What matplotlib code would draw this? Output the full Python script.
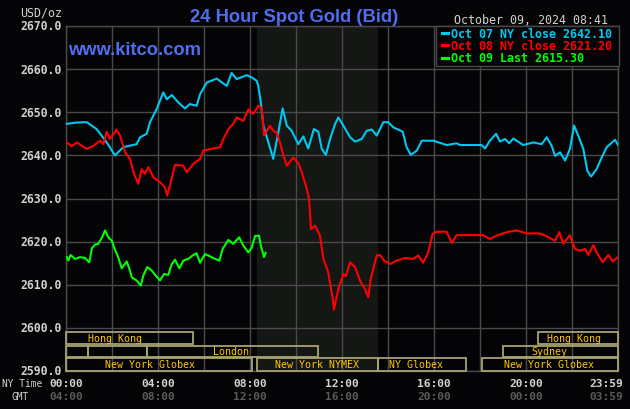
import matplotlib
matplotlib.use("Agg")
import matplotlib.pyplot as plt
from matplotlib.patches import Rectangle
import matplotlib.transforms as mtransforms

# ---------------- data ----------------
oct07_h = [0.03, 0.43, 0.9, 1.33, 1.77, 2.13, 2.49, 3.07, 3.22, 3.51, 3.65, 3.94, 4.23, 4.38, 4.6,
           4.88, 5.17, 5.39, 5.68, 5.83, 6.12, 6.55, 6.99, 7.2, 7.42, 7.86, 8.07, 8.29, 8.36, 8.47,
           8.58, 8.8, 9.01, 9.23, 9.42, 9.6, 9.81, 10.1, 10.32, 10.53, 10.78, 10.97, 11.12, 11.3,
           11.48, 11.7, 11.84, 12.06, 12.35, 12.57, 12.86, 13.07, 13.29, 13.51, 13.8, 14.01, 14.23,
           14.64, 14.81, 14.99, 15.25, 15.47, 15.97, 16.55, 16.99, 17.13, 18.07, 18.22, 18.43, 18.7,
           18.87, 19.09, 19.27, 19.45, 19.88, 20.32, 20.68, 20.9, 21.12, 21.26, 21.48, 21.7, 21.91,
           22.09, 22.27, 22.49, 22.67, 22.83, 23.07, 23.29, 23.51, 23.87, 24.0]
oct07_v = [2647.3, 2647.6, 2647.7, 2646.1, 2643.0, 2640.0, 2641.9, 2642.6, 2644.2, 2645.0, 2647.7,
           2650.7, 2654.6, 2653.0, 2654.0, 2652.3, 2650.9, 2651.9, 2651.5, 2654.2, 2656.9, 2657.8,
           2656.1, 2659.1, 2657.7, 2658.6, 2658.1, 2657.3, 2656.1, 2652.3, 2646.9, 2643.0, 2639.2,
           2645.3, 2650.9, 2646.9, 2645.7, 2642.6, 2644.4, 2641.6, 2646.1, 2645.5, 2641.5, 2640.1,
           2643.8, 2647.3, 2648.8, 2646.9, 2644.2, 2643.2, 2643.8, 2645.7, 2646.0, 2644.6, 2647.7,
           2647.7, 2646.5, 2645.5, 2641.9, 2640.1, 2641.1, 2643.4, 2643.4, 2642.4, 2642.8, 2642.4,
           2642.4, 2641.6, 2643.4, 2645.0, 2643.2, 2643.8, 2642.8, 2643.9, 2642.4, 2643.0, 2642.6,
           2644.2, 2642.2, 2639.9, 2640.7, 2638.8, 2641.5, 2646.9, 2644.6, 2641.5, 2636.4, 2635.1,
           2636.8, 2639.5, 2641.9, 2643.6, 2642.4]

oct08_h = [0.03, 0.25, 0.47, 0.9, 1.19, 1.48, 1.62, 1.77, 1.91, 2.2, 2.35, 2.57, 2.78, 2.96, 3.14,
           3.29, 3.43, 3.58, 3.8, 4.09, 4.3, 4.4, 4.52, 4.74, 5.1, 5.25, 5.53, 5.83, 5.97, 6.4, 6.7,
           6.84, 7.06, 7.27, 7.42, 7.71, 7.93, 8.14, 8.36, 8.51, 8.61, 8.87, 9.01, 9.16, 9.3, 9.45,
           9.6, 9.88, 10.1, 10.25, 10.47, 10.57, 10.65, 10.83, 11.04, 11.19, 11.4, 11.6, 11.65,
           11.84, 12.06, 12.17, 12.35, 12.57, 12.78, 13.0, 13.14, 13.25, 13.36, 13.51, 13.65, 13.83,
           14.09, 14.38, 14.74, 15.1, 15.32, 15.53, 15.75, 15.94, 16.12, 16.55, 16.77, 16.99, 18.14,
           18.43, 18.73, 19.16, 19.6, 20.03, 20.61, 20.9, 21.26, 21.45, 21.62, 21.91, 22.13, 22.35,
           22.57, 22.71, 22.93, 23.07, 23.33, 23.58, 23.77, 24.0]
oct08_v = [2643.0, 2642.1, 2643.0, 2641.5, 2642.2, 2643.4, 2642.6, 2645.5, 2643.8, 2646.0, 2644.6,
           2640.7, 2639.2, 2635.7, 2633.4, 2636.8, 2635.7, 2637.3, 2634.9, 2633.8, 2632.6, 2630.7,
           2633.0, 2637.8, 2637.6, 2636.1, 2638.0, 2639.2, 2641.1, 2641.6, 2641.9, 2643.8, 2646.1,
           2647.3, 2648.8, 2648.0, 2650.7, 2649.6, 2651.5, 2651.0, 2644.6, 2646.9, 2645.7, 2645.3,
           2643.0, 2640.0, 2637.6, 2639.5, 2638.2, 2636.1, 2632.2, 2629.9, 2622.9, 2623.7, 2621.4,
           2616.0, 2612.9, 2606.7, 2604.2, 2609.0, 2612.5, 2612.0, 2615.2, 2614.1, 2611.0, 2609.0,
           2607.1, 2611.4, 2613.7, 2616.8, 2616.9, 2615.6, 2614.8, 2615.6, 2616.2, 2616.0, 2616.8,
           2615.1, 2617.5, 2621.8, 2622.3, 2622.3, 2619.7, 2621.5, 2621.5, 2620.6, 2621.4, 2622.2,
           2622.6, 2621.9, 2621.9, 2621.2, 2620.2, 2622.2, 2619.5, 2621.5, 2618.3, 2617.9, 2618.3,
           2616.9, 2619.2, 2617.5, 2615.2, 2616.9, 2615.4, 2616.4]

oct09_h = [0.03, 0.1, 0.2, 0.39, 0.61, 0.83, 1.01, 1.13, 1.26, 1.4, 1.55, 1.7, 1.84, 1.99, 2.13,
           2.27, 2.42, 2.64, 2.78, 2.86, 3.07, 3.25, 3.36, 3.53, 3.73, 3.87, 4.09, 4.26, 4.45, 4.6,
           4.74, 4.93, 5.1, 5.32, 5.53, 5.68, 5.83, 6.04, 6.26, 6.48, 6.67, 6.81, 7.06, 7.27, 7.53,
           7.71, 7.93, 8.07, 8.22, 8.39, 8.47, 8.61, 8.68]
oct09_v = [2616.4, 2615.6, 2616.9, 2616.0, 2616.4, 2616.2, 2615.2, 2618.5, 2619.3, 2619.5, 2620.8,
           2622.6, 2621.0, 2620.2, 2618.1, 2616.4, 2613.8, 2615.4, 2613.3, 2611.7, 2611.0, 2609.8,
           2612.1, 2614.1, 2613.3, 2612.3, 2611.0, 2612.5, 2612.3, 2614.8, 2615.8, 2613.8, 2615.6,
           2616.0, 2616.9, 2617.3, 2615.1, 2617.1, 2616.6, 2616.0, 2615.6, 2618.3, 2620.4, 2619.5,
           2621.0, 2619.1, 2617.5, 2618.5, 2621.3, 2621.4, 2619.1, 2616.4, 2617.4]

series_labels = ["Oct 07 NY close 2642.10", "Oct 08 NY close 2621.20", "Oct 09 Last 2615.30"]

y_ticks = [2590, 2600, 2610, 2620, 2630, 2640, 2650, 2660, 2670]
ny_time_labels = ["00:00", "04:00", "08:00", "12:00", "16:00", "20:00", "23:59"]
gmt_labels = ["04:00", "08:00", "12:00", "16:00", "20:00", "00:00", "03:59"]
time_label_hours = [0, 4, 8, 12, 16, 20, 23.5]

nymex_start, nymex_end = 8.29, 13.55

# sessions: label, row (0=top), start hour, end hour, label centre hour
sess_label = ["Hong Kong", "Hong Kong", "", "", "London", "Sydney",
              "New York Globex", "New York NYMEX", "NY Globex", "New York Globex"]
sess_row = [0, 0, 1, 1, 1, 1, 2, 2, 2, 2]
sess_start = [0.0, 20.53, 0.0, 0.97, 3.51, 19.01, 0.0, 8.29, 13.55, 18.07]
sess_end = [5.51, 24.0, 0.97, 3.51, 10.96, 24.0, 8.07, 13.55, 17.38, 24.0]
sess_text_x = [2.15, 22.1, None, None, 7.19, 21.02, 3.67, 10.93, 15.23, 21.01]

# ---------------- style ----------------
BG = "#040406"
GRID = "#4a4a4a"
LABEL = "#d2d2d2"
GMTC = "#5a5a5a"
BLUE = "#4f6ff0"
CYAN = "#00c8f0"
RED = "#ff0000"
GREEN = "#00ff00"
SESS_EDGE = "#a8a274"
SESS_TEXT = "#ffc800"
MONO = "DejaVu Sans Mono"

W, H = 630, 410
fig = plt.figure(figsize=(W / 100, H / 100), dpi=100, facecolor=BG)


def fx(px):
    return px / W


def fy(py):
    return 1 - py / H


L, R, T, B = 66, 618, 27, 372
ax = fig.add_axes([fx(L), fy(B), fx(R) - fx(L), fy(T) - fy(B)])
ax.set_facecolor(BG)
ax.set_xlim(0, 24)
ax.set_ylim(2590, 2670)

ax.axvspan(nymex_start, nymex_end, color="#141714", zorder=0, lw=0)

ax.set_xticks(range(0, 25, 2))
ax.set_yticks(y_ticks)
ax.grid(True, color=GRID, lw=1.0, zorder=1)
ax.set_axisbelow(True)
for s in ax.spines.values():
    s.set_color(GRID)
    s.set_linewidth(1.0)
ax.tick_params(length=0, labelbottom=False)
ax.set_yticklabels([f"{v:.1f}" for v in y_ticks], fontfamily=MONO, fontweight="bold",
                   fontsize=8.3, color=LABEL)
ax.tick_params(axis="y", pad=3)
for lbl in ax.get_yticklabels():
    lbl.set_verticalalignment("center")

ax.plot(oct07_h, oct07_v, color=CYAN, lw=1.5, zorder=3)
ax.plot(oct08_h, oct08_v, color=RED, lw=1.5, zorder=3)
ax.plot(oct09_h, oct09_v, color=GREEN, lw=1.5, zorder=3)

# session boxes
row_bounds = [(2596.3, 2599.0), (2593.3, 2595.9), (2590.0, 2593.1)]
for lab, row, s, e, tx in zip(sess_label, sess_row, sess_start, sess_end, sess_text_x):
    y0, y1 = row_bounds[row]
    ax.add_patch(Rectangle((s, y0), e - s, y1 - y0, fill=False, ec=SESS_EDGE, lw=1.3,
                           zorder=4, clip_on=False))
    if lab:
        ax.text(tx, (y0 + y1) / 2, lab, color=SESS_TEXT, fontsize=7.2, fontfamily=MONO,
                ha="center", va="center", zorder=5)

# legend box
leg = Rectangle((fx(436), fy(67)), fx(619) - fx(436), fy(27) - fy(67), transform=fig.transFigure,
                facecolor=BG, edgecolor=GRID, lw=1.0, zorder=6)
fig.patches.append(leg)
for i, (lab, c) in enumerate(zip(series_labels, [CYAN, RED, GREEN])):
    yy = [34, 46, 59][i]
    fig.add_artist(plt.Line2D([fx(442), fx(448)], [fy(yy), fy(yy)], color=c, lw=2.2,
                              transform=fig.transFigure, zorder=7))
    fig.text(fx(451), fy(yy), lab, color=c, fontsize=8.4, fontfamily=MONO, fontweight="bold",
             ha="left", va="center", zorder=7)

# header texts
fig.text(fx(294), fy(21.7), "24 Hour Spot Gold (Bid)", color=BLUE, fontsize=13.2,
         fontfamily="Liberation Sans", fontweight="bold", ha="center", va="baseline")
fig.text(fx(68), fy(55), "www.kitco.com", color=BLUE, fontsize=13.2,
         fontfamily="Liberation Sans", fontweight="bold", ha="left", va="baseline", zorder=6)
fig.text(fx(62), fy(13.5), "USD/oz", color=LABEL, fontsize=8.4, fontfamily=MONO,
         ha="right", va="center")
fig.text(fx(608), fy(20), "October 09, 2024 08:41", color=LABEL, fontsize=8.4, fontfamily=MONO,
         ha="right", va="center")

# bottom time labels
trans = mtransforms.blended_transform_factory(ax.transData, fig.transFigure)
for h, ny, g in zip(time_label_hours, ny_time_labels, gmt_labels):
    ax.text(h, fy(384.5), ny, color=LABEL, fontsize=8.1, fontfamily=MONO, fontweight="bold",
            ha="center", va="center", transform=trans)
    ax.text(h, fy(397.5), g, color=GMTC, fontsize=8.1, fontfamily=MONO, fontweight="bold",
            ha="center", va="center", transform=trans)
fig.text(fx(2), fy(384.5), "NY Time", color=LABEL, fontsize=6.9, fontfamily=MONO,
         ha="left", va="center")
fig.text(fx(11), fy(397.5), "GMT", color=LABEL, fontsize=6.9, fontfamily=MONO,
         ha="left", va="center")

fig.savefig("out.png", dpi=100, facecolor=BG)
